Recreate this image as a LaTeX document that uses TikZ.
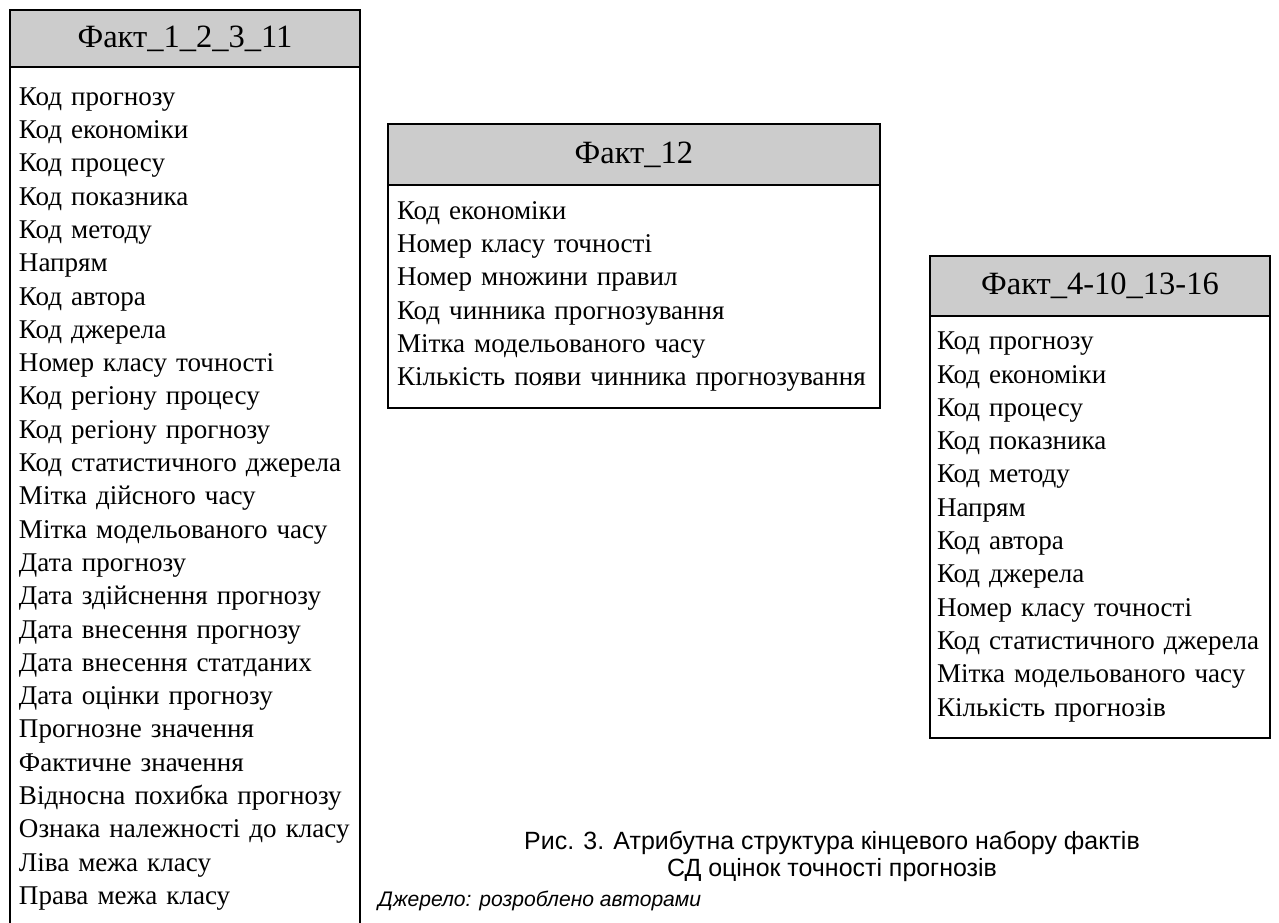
\documentclass[tikz,border=0pt]{standalone}
\usepackage{fontspec}
\setmainfont{Liberation Serif}
\setsansfont{Liberation Sans}
\usepackage{xcolor}
\usepackage{tikz}
\usetikzlibrary{positioning}

\definecolor{headgray}{HTML}{CCCCCC}

\begin{document}
\begin{tikzpicture}[
    x=0.02cm, y=-0.02cm,
    head/.style={rectangle, draw, line width=1.1pt, fill=headgray, outer sep=0pt,
                 anchor=north west, align=center,
                 font=\fontsize{18.5}{21}\selectfont},
    body/.style={rectangle, draw, line width=1.1pt, fill=white, outer sep=0pt,
                 inner xsep=0.18cm, align=left,
                 font=\fontsize{15.4}{18.95}\selectfont},
    capt/.style={align=center, font=\sffamily\fontsize{14.2}{15.4}\selectfont}
]
\useasboundingbox (0,0) rectangle (1279,923);

% === FACT 1_2_3_11 ===
\node[head, minimum width=7cm, minimum height=1.14cm] (f1head) at (10,10) {Факт\_1\_2\_3\_11};
\node[body, below=0pt of f1head, text width=6.64cm, minimum height=17.28cm] (f1body) {%
Код прогнозу\\ Код економіки\\ Код процесу\\ Код показника\\ Код методу\\
Напрям\\ Код автора\\ Код джерела\\ Номер класу точності\\ Код регіону процесу\\
Код регіону прогнозу\\ Код статистичного джерела\\ Мітка дійсного часу\\
Мітка модельованого часу\\ Дата прогнозу\\ Дата здійснення прогнозу\\
Дата внесення прогнозу\\ Дата внесення статданих\\ Дата оцінки прогнозу\\
Прогнозне значення\\ Фактичне значення\\ Відносна похибка прогнозу\\
Ознака належності до класу\\ Ліва межа класу\\ Права межа класу};

% === FACT 12 ===
\node[head, minimum width=9.84cm, minimum height=1.22cm] (f12head) at (388,124) {Факт\_12};
\node[body, below=0pt of f12head, text width=9.48cm, minimum height=4.46cm] (f12body) {%
Код економіки\\ Номер класу точності\\ Номер множини правил\\
Код чинника прогнозування\\ Мітка модельованого часу\\
Кількість появи чинника прогнозування};

% === FACT 4-10_13-16 ===
\node[head, minimum width=6.8cm, minimum height=1.2cm] (f4head) at (930,256) {Факт\_4-10\_13-16};
\node[body, below=0pt of f4head, inner xsep=0.14cm, text width=6.52cm, minimum height=8.44cm] (f4body) {%
Код прогнозу\\ Код економіки\\ Код процесу\\ Код показника\\ Код методу\\
Напрям\\ Код автора\\ Код джерела\\ Номер класу точності\\
Код статистичного джерела\\ Мітка модельованого часу\\ Кількість прогнозів};

% === CAPTION ===
\node[capt] (caption) at (832,856) {Рис. 3. Атрибутна структура кінцевого набору фактів\\
СД оцінок точності прогнозів};
\node[anchor=west, font=\sffamily\itshape\fontsize{12}{14}\selectfont] (source) at (372,901)
  {Джерело: розроблено авторами};

\end{tikzpicture}
\end{document}
